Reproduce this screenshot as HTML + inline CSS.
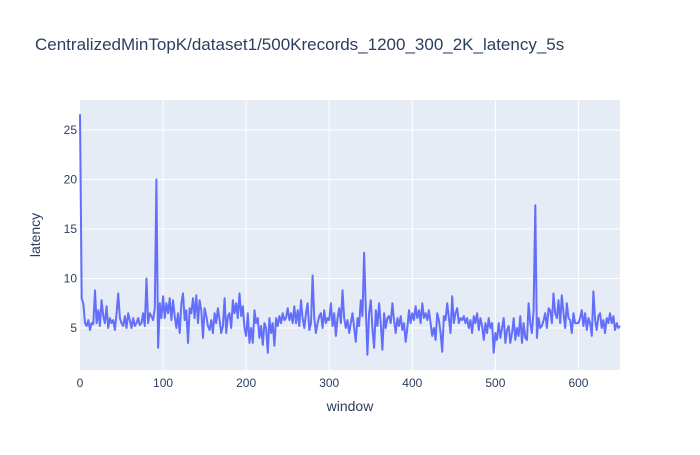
<!DOCTYPE html>
<html><head><meta charset="utf-8"><style>
body{margin:0;background:#fff;font-family:"Liberation Sans",sans-serif}
svg text{font-family:"Liberation Sans",sans-serif;fill:#2a3f5f}
</style></head><body>
<svg id="chart" width="700" height="450">
<rect width="700" height="450" fill="#fff"/>
<text x="35" y="50" font-size="17">CentralizedMinTopK/dataset1/500Krecords_1200_300_2K_latency_5s</text>
<rect x="80" y="100" width="540" height="270" fill="#e5ecf6"/>
<g id="grid"></g><g id="ticks"></g>
<path id="line" fill="none" stroke="#636efa" stroke-width="2" stroke-linejoin="round"/>
<text x="350" y="411" font-size="14" text-anchor="middle">window</text>
<text transform="translate(40,235) rotate(-90)" font-size="14" text-anchor="middle">latency</text>
</svg>
<script>
const windowStep = 2;
const latency = [
26.6,8,7.5,5.5,5.2,5.8,4.8,5.5,5.4,8.8,
5.5,6.8,5.2,7.8,6.2,5.5,7.2,5.0,6.0,5.5,
5.8,4.8,6.5,8.5,6.0,5.5,5.2,6.2,5.0,6.5,
5.8,5.0,6.0,5.2,5.5,6.0,5.3,5.5,6.5,5.2,
10.0,5.5,6.5,6.2,5.8,7.0,20.0,3.0,7.5,6.0,
8.2,6.0,7.5,6.5,8.0,5.8,7.8,6.2,5.0,6.5,
4.5,7.5,8.5,5.8,6.8,3.5,7.0,6.5,8.0,6.0,
8.3,5.5,7.8,6.8,4.0,7.0,6.2,5.2,4.8,5.8,
4.5,6.5,5.5,7.0,5.8,4.5,5.2,8.0,4.5,6.2,
6.5,5.0,7.8,6.5,7.5,6.0,8.5,6.2,7.2,5.0,
4.2,6.5,3.5,5.0,3.5,6.8,5.5,6.0,4.0,5.2,
3.3,5.5,5.0,2.5,6.0,4.5,5.5,3.2,6.0,5.2,
6.2,5.5,6.5,5.8,6.0,7.0,5.8,6.5,5.5,7.2,
5.5,6.8,5.2,7.8,6.0,5.0,6.5,7.5,4.8,5.5,
10.3,6.0,4.5,5.5,6.2,6.5,5.0,6.8,5.5,6.0,
5.8,7.5,5.2,6.5,4.2,6.0,7.0,5.5,8.8,6.0,
5.0,5.8,4.5,5.5,6.5,5.0,3.6,6.0,5.2,7.8,
6.2,12.6,7.0,2.3,6.5,7.8,5.0,3.0,6.8,5.2,
7.5,5.5,2.8,6.5,5.0,6.0,6.2,5.5,7.5,5.8,
4.5,6.0,5.2,6.2,4.8,5.5,3.6,5.0,6.8,5.5,
6.5,5.8,7.2,6.0,6.8,5.5,7.5,6.0,6.5,5.8,
6.8,5.5,4.2,5.0,3.8,6.5,5.8,4.5,2.6,6.2,
5.8,7.5,6.0,4.5,8.2,5.5,6.5,7.0,5.5,6.0,
5.8,6.2,5.5,6.0,5.0,5.8,4.5,6.2,5.5,6.5,
4.8,6.0,5.2,3.8,5.5,4.5,6.0,5.0,5.5,2.5,
4.5,3.8,5.5,4.0,5.0,6.0,3.5,4.8,5.2,3.5,
4.5,6.0,3.8,5.0,4.2,6.2,3.5,5.5,4.0,3.8,
7.5,5.5,4.5,6.8,17.4,4.0,6.0,5.0,5.2,5.8,
6.5,5.0,7.0,6.8,5.5,8.5,6.5,6.0,7.8,5.5,
8.3,6.5,5.0,7.5,6.0,5.8,4.5,6.5,5.5,5.5,
5.5,6.0,6.8,5.2,6.5,4.8,6.0,5.5,4.2,8.7,
5.8,4.8,6.2,6.5,5.0,5.8,4.5,6.0,5.5,6.5,
5.5,6.2,4.8,5.5,5.0,5.2];
const xTicks = [0,100,200,300,400,500,600];
const yTicks = [5,10,15,20,25];
const xMin=0,xMax=650,yMin=0.76,yMax=28.03;
const L=80,R=620,T=100,B=370;
const sx=v=>L+(v-xMin)/(xMax-xMin)*(R-L);
const sy=v=>B-(v-yMin)/(yMax-yMin)*(B-T);
const NS="http://www.w3.org/2000/svg";
const grid=document.getElementById('grid'),ticks=document.getElementById('ticks');
xTicks.forEach(t=>{
  const l=document.createElementNS(NS,'line');
  
  
  l.setAttribute('x1',sx(t));l.setAttribute('x2',sx(t));l.setAttribute('y1',T);l.setAttribute('y2',B);
  l.setAttribute('stroke','#fff');l.setAttribute('stroke-width',t===0?0:1);
  grid.appendChild(l);
  const tx=document.createElementNS(NS,'text');
  
  
  tx.setAttribute('x',sx(t));tx.setAttribute('y',B+17);tx.setAttribute('font-size','12');tx.setAttribute('text-anchor','middle');
  tx.textContent=t;ticks.appendChild(tx);
});
yTicks.forEach(t=>{
  const l=document.createElementNS(NS,'line');
  
  
  l.setAttribute('x1',L);l.setAttribute('x2',R);l.setAttribute('y1',sy(t));l.setAttribute('y2',sy(t));
  l.setAttribute('stroke','#fff');l.setAttribute('stroke-width',1);
  grid.appendChild(l);
  const tx=document.createElementNS(NS,'text');
  
  
  tx.setAttribute('x',L-3);tx.setAttribute('y',sy(t)+4);tx.setAttribute('font-size','12');tx.setAttribute('text-anchor','end');
  tx.textContent=t;ticks.appendChild(tx);
});
document.getElementById('line').setAttribute('d',latency.map((v,i)=>(i?'L':'M')+sx(i*windowStep).toFixed(1)+','+sy(v).toFixed(1)).join(''));
</script>
</body></html>
